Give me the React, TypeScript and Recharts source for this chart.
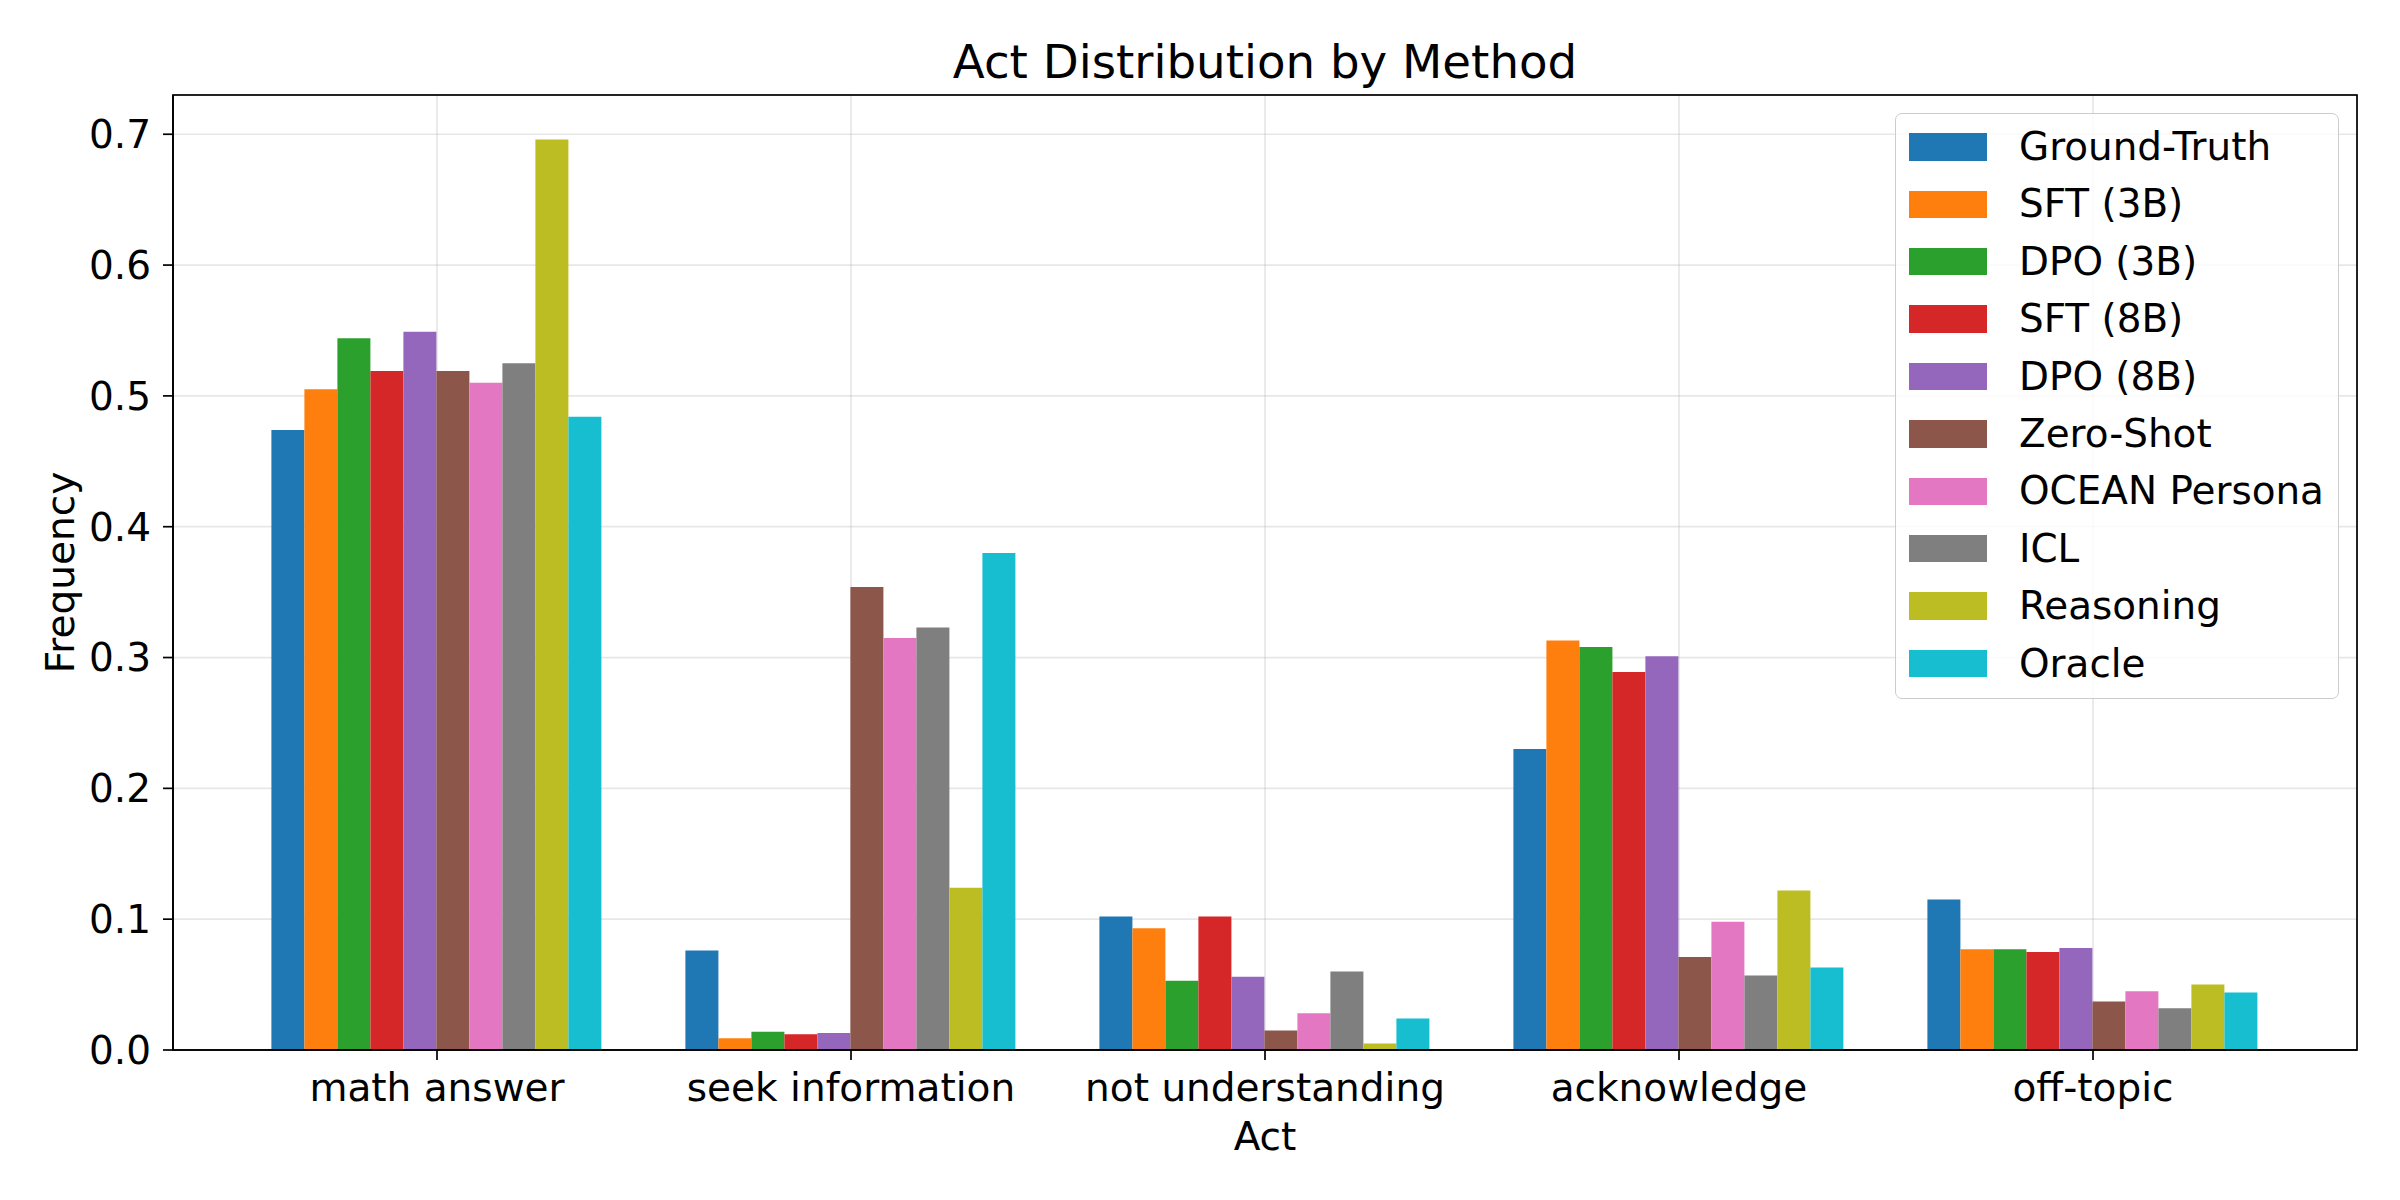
import React from 'react';
import { BarChart, Bar, XAxis, YAxis, CartesianGrid } from 'recharts';

const categories = ['math answer', 'seek information', 'not understanding', 'acknowledge', 'off-topic'];

const seriesNames = [
  'Ground-Truth', 'SFT (3B)', 'DPO (3B)', 'SFT (8B)', 'DPO (8B)',
  'Zero-Shot', 'OCEAN Persona', 'ICL', 'Reasoning', 'Oracle',
];

const seriesColors = [
  '#1f77b4', '#ff7f0e', '#2ca02c', '#d62728', '#9467bd',
  '#8c564b', '#e377c2', '#7f7f7f', '#bcbd22', '#17becf',
];

const groundTruth = [0.474, 0.076, 0.102, 0.230, 0.115];
const sft3b = [0.505, 0.009, 0.093, 0.313, 0.077];
const dpo3b = [0.544, 0.014, 0.053, 0.308, 0.077];
const sft8b = [0.519, 0.012, 0.102, 0.289, 0.075];
const dpo8b = [0.549, 0.013, 0.056, 0.301, 0.078];
const zeroShot = [0.519, 0.354, 0.015, 0.071, 0.037];
const oceanPersona = [0.510, 0.315, 0.028, 0.098, 0.045];
const icl = [0.525, 0.323, 0.060, 0.057, 0.032];
const reasoning = [0.696, 0.124, 0.005, 0.122, 0.050];
const oracle = [0.484, 0.380, 0.024, 0.063, 0.044];

const yTicks = [0, 0.1, 0.2, 0.3, 0.4, 0.5, 0.6, 0.7];

const seriesValues = [groundTruth, sft3b, dpo3b, sft8b, dpo8b, zeroShot, oceanPersona, icl, reasoning, oracle];

const data = categories.map((c, i) => {
  const row: Record<string, any> = { act: c };
  seriesNames.forEach((n, k) => {
    row[n] = seriesValues[k][i];
  });
  return row;
});

const FONT = '"DejaVu Sans", sans-serif';

// layout (pixels)
const W = 2400;
const H = 1200;
const PLOT_LEFT = 173;
const PLOT_RIGHT = 2357;
const PLOT_TOP = 95;
const PLOT_BOTTOM = 1050;
const Y_AXIS_W = 100;
const X_AXIS_H = 60;

const LEG_ROW = 57.4;
const LEG_FIRST = 33;

function LegendBox() {
  return (
    <div
      style={{
        position: 'absolute',
        left: 1895,
        top: 113,
        width: 444,
        height: 586,
        boxSizing: 'border-box',
        border: '1.7px solid #cccccc',
        borderRadius: 7,
        background: 'rgba(255,255,255,0.8)',
        fontFamily: FONT,
        fontSize: 38.9,
        color: '#000',
        pointerEvents: 'none',
      }}
    >
      {seriesNames.map((n, i) => (
        <div
          key={n}
          style={{
            position: 'absolute',
            left: 0,
            top: LEG_FIRST + i * LEG_ROW - 28,
            height: 56,
            width: '100%',
          }}
        >
          <div
            style={{
              position: 'absolute',
              left: 13,
              top: 28 - 13.7,
              width: 78,
              height: 27.4,
              background: seriesColors[i],
            }}
          />
          <div
            style={{
              position: 'absolute',
              left: 123,
              top: 0,
              height: 56,
              lineHeight: '56px',
              whiteSpace: 'nowrap',
            }}
          >
            {n}
          </div>
        </div>
      ))}
    </div>
  );
}

export default function App() {
  const cx = (PLOT_LEFT + PLOT_RIGHT) / 2;
  const cy = (PLOT_TOP + PLOT_BOTTOM) / 2;
  return (
    <div style={{ position: 'absolute', left: 0, top: 0, width: W, height: H, background: '#fff' }}>
      <BarChart
        width={W}
        height={H}
        data={data}
        margin={{
          top: PLOT_TOP,
          right: W - PLOT_RIGHT,
          bottom: H - PLOT_BOTTOM - X_AXIS_H,
          left: PLOT_LEFT - Y_AXIS_W,
        }}
        barCategoryGap="10%"
        barGap={0}
      >
        <XAxis
          dataKey="act"
          height={X_AXIS_H}
          padding={{ left: 57, right: 57 }}
          tickSize={10}
          tickMargin={13}
          tick={{ fontFamily: FONT, fontSize: 39, fill: '#000' }}
          tickLine={{ stroke: '#000', strokeWidth: 1.7 }}
          axisLine={{ stroke: '#000', strokeWidth: 1.7 }}
          interval={0}
        />
        <YAxis
          width={Y_AXIS_W}
          domain={[0, 0.73]}
          ticks={yTicks}
          tickFormatter={(v: number) => v.toFixed(1)}
          tickSize={10}
          tickMargin={12}
          tick={{ fontFamily: FONT, fontSize: 39, fill: '#000' }}
          tickLine={{ stroke: '#000', strokeWidth: 1.7 }}
          axisLine={{ stroke: '#000', strokeWidth: 1.7 }}
          allowDataOverflow
        />
        {seriesNames.map((n, i) => (
          <Bar key={n} dataKey={n} fill={seriesColors[i]} isAnimationActive={false} />
        ))}
        <CartesianGrid stroke="#b0b0b0" strokeOpacity={0.3} strokeWidth={1.7} />
      </BarChart>

      <svg
        width={W}
        height={H}
        style={{ position: 'absolute', left: 0, top: 0, pointerEvents: 'none' }}
      >
        <rect
          x={PLOT_LEFT}
          y={PLOT_TOP}
          width={PLOT_RIGHT - PLOT_LEFT}
          height={PLOT_BOTTOM - PLOT_TOP}
          fill="none"
          stroke="#000"
          strokeWidth={1.7}
        />
        <text x={cx} y={78} textAnchor="middle" fontFamily={FONT} fontSize={46.7} fill="#000">
          Act Distribution by Method
        </text>
        <text x={cx} y={1150} textAnchor="middle" fontFamily={FONT} fontSize={39} fill="#000">
          Act
        </text>
        <text
          transform={`translate(74, ${cy}) rotate(-90)`}
          textAnchor="middle"
          fontFamily={FONT}
          fontSize={39}
          fill="#000"
        >
          Frequency
        </text>
      </svg>

      <LegendBox />
    </div>
  );
}
